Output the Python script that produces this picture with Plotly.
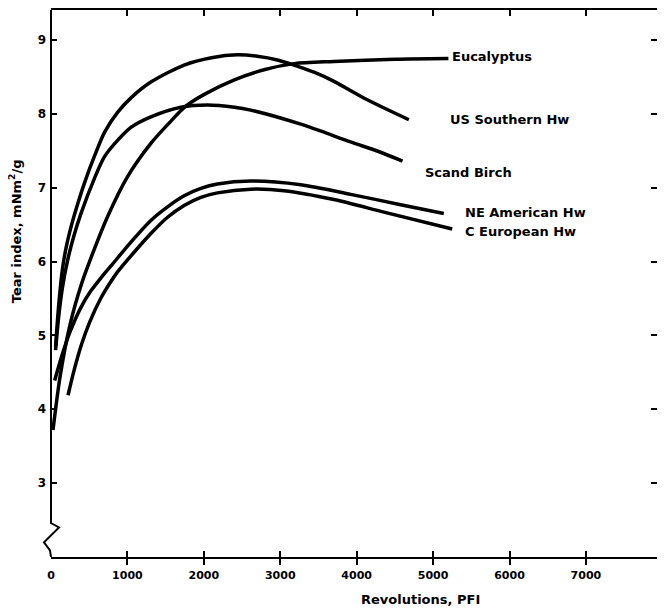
import plotly.graph_objects as go

# ---- data ----
euc_x = [26, 120, 250, 400, 523, 741, 1002, 1307, 1550, 1760, 2000, 2400, 2800, 3180, 3700, 4500, 5200]
euc_y = [3.72, 4.45, 5.15, 5.70, 6.05, 6.61, 7.15, 7.60, 7.88, 8.10, 8.26, 8.46, 8.60, 8.68, 8.71, 8.74, 8.75]

uss_x = [60, 100, 150, 200, 270, 349, 450, 566, 700, 871, 1050, 1307, 1742, 2100, 2440, 2700, 2963, 3180, 3450, 3703, 4139, 4683]
uss_y = [4.85, 5.40, 5.90, 6.20, 6.50, 6.78, 7.10, 7.42, 7.75, 8.02, 8.22, 8.43, 8.66, 8.76, 8.80, 8.78, 8.73, 8.66, 8.56, 8.44, 8.19, 7.92]

sb_x = [60, 100, 150, 218, 300, 392, 566, 700, 871, 1050, 1307, 1700, 2048, 2400, 2614, 3268, 3921, 4313, 4600]
sb_y = [4.80, 5.25, 5.65, 6.02, 6.35, 6.65, 7.12, 7.42, 7.64, 7.82, 7.96, 8.09, 8.12, 8.09, 8.05, 7.86, 7.62, 7.48, 7.36]

ne_x = [48, 150, 250, 397, 520, 654, 800, 1077, 1300, 1525, 1742, 1961, 2178, 2614, 3268, 3921, 4575, 5140]
ne_y = [4.39, 4.75, 5.05, 5.39, 5.60, 5.78, 5.96, 6.30, 6.55, 6.74, 6.89, 6.99, 7.05, 7.09, 7.04, 6.91, 6.77, 6.65]

ce_x = [223, 300, 400, 506, 650, 784, 871, 1133, 1307, 1525, 1742, 1961, 2178, 2614, 3049, 3703, 4356, 5250]
ce_y = [4.19, 4.52, 4.88, 5.18, 5.50, 5.73, 5.86, 6.18, 6.38, 6.60, 6.76, 6.87, 6.93, 6.98, 6.96, 6.84, 6.67, 6.44]

series = [
    ("Eucalyptus", euc_x, euc_y),
    ("US Southern Hw", uss_x, uss_y),
    ("Scand Birch", sb_x, sb_y),
    ("NE American Hw", ne_x, ne_y),
    ("C European Hw", ce_x, ce_y),
]

label_names = ["Eucalyptus", "US Southern Hw", "Scand Birch", "NE American Hw", "C European Hw"]
label_x = [5223, 5197, 4869, 5393, 5393]
label_y = [8.77, 7.93, 7.20, 6.67, 6.41]

x_ticks = [0, 1000, 2000, 3000, 4000, 5000, 6000, 7000]
y_ticks = [3, 4, 5, 6, 7, 8, 9]

X_RANGE = [0, 7930]
Y_RANGE = [2.0, 9.406]

FONT = "DejaVu Sans"
FIG_W, FIG_H = 657, 603
M_L, M_R, M_T, M_B = 43, 8, 2, 54
PLOT_W = FIG_W - M_L - M_R

fig = go.Figure()
for name, xs, ys in series:
    fig.add_trace(go.Scatter(
        x=xs, y=ys, mode="lines", name=name,
        line=dict(color="black", width=3.5, shape="spline", smoothing=0.8),
        showlegend=False, hoverinfo="skip",
    ))
# empty trace to carry the right-hand mirror axis
fig.add_trace(go.Scatter(x=[], y=[], yaxis="y2", showlegend=False, hoverinfo="skip"))

for t, xx, yy in zip(label_names, label_x, label_y):
    fig.add_annotation(x=xx, y=yy, xref="x", yref="y", text=t, showarrow=False,
                       xanchor="left", yanchor="middle",
                       font=dict(family=FONT, size=13, color="black", weight="bold"))

# axis titles
fig.add_annotation(x=-0.059, y=0.596, xref="paper", yref="paper",
                   text="Tear index, mNm<sup>2</sup>/g", showarrow=False, textangle=-90,
                   xanchor="center", yanchor="middle",
                   font=dict(family=FONT, size=13, color="black", weight="bold"))
fig.add_annotation(x=0.61, y=-0.078, xref="paper", yref="paper",
                   text="Revolutions, PFI", showarrow=False,
                   xanchor="center", yanchor="middle",
                   font=dict(family=FONT, size=13, color="black", weight="bold"))

# left axis line with the axis-break zigzag near the bottom
def px(p):
    return p / PLOT_W

left_path = (f"M 0,{Y_RANGE[1]} L 0,2.46 L {px(8)},2.40 L {px(-7)},2.20 "
             f"L {px(-1)},2.09 L 0,{Y_RANGE[0]}")
fig.add_shape(type="path", xref="paper", yref="y", path=left_path,
              line=dict(color="black", width=2), layer="above")

fig.update_xaxes(range=X_RANGE, tickvals=x_ticks, ticktext=[str(v) for v in x_ticks],
                 showline=True, linecolor="black", linewidth=2, mirror="allticks",
                 ticks="inside", ticklen=6, tickwidth=2, tickcolor="black",
                 showgrid=False, zeroline=False, automargin=False, ticklabelstandoff=7,
                 tickfont=dict(family=FONT, size=11, color="black", weight="bold"))
fig.update_layout(
    yaxis=dict(range=Y_RANGE, tickvals=y_ticks, ticktext=[str(v) for v in y_ticks],
               showline=False, ticks="inside", ticklen=6, tickwidth=2, tickcolor="black",
               showgrid=False, zeroline=False, automargin=False, ticklabelstandoff=4,
               tickfont=dict(family=FONT, size=12, color="black", weight="bold")),
    yaxis2=dict(range=Y_RANGE, tickvals=y_ticks, overlaying="y", side="right", anchor="x",
                showline=True, linecolor="black", linewidth=2,
                ticks="inside", ticklen=6, tickwidth=2, tickcolor="black",
                showticklabels=False, showgrid=False, zeroline=False, automargin=False),
    width=FIG_W, height=FIG_H,
    margin=dict(l=M_L, r=M_R, t=M_T, b=M_B),
    paper_bgcolor="white", plot_bgcolor="white",
)

fig.write_html("out.html")
